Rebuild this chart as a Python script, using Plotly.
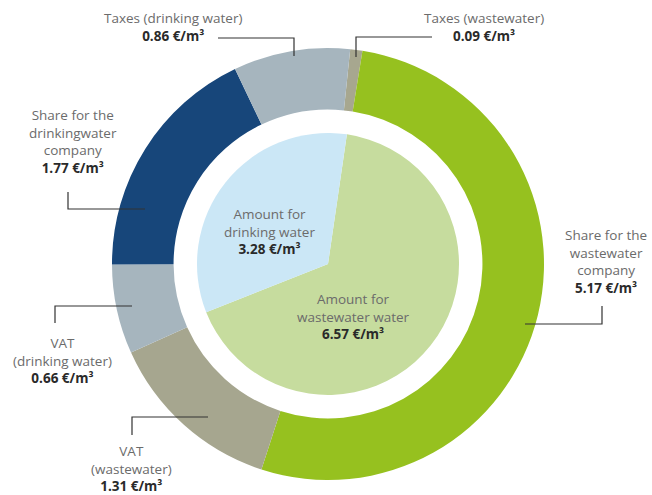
import plotly.graph_objects as go

# ---- data ----
outer_labels = ["Taxes (wastewater)", "Share for the wastewater company", "VAT (wastewater)",
                "VAT (drinking water)", "Share for the drinkingwater company", "Taxes (drinking water)"]
outer_values = [0.09, 5.17, 1.31, 0.66, 1.77, 0.86]
outer_colors = ["#A7A78F", "#96C11F", "#A6A68F", "#A6B5BE", "#17467A", "#A6B5BE"]

inner_labels = ["Amount for wastewater water", "Amount for drinking water"]
inner_values = [6.57, 3.28]
inner_colors = ["#C6DC9E", "#CBE7F6"]

W, H = 652, 495
cx, cy = 328, 264
R_out, R_in = 216, 131

def dom(r):
    return dict(x=[(cx - r) / W, (cx + r) / W], y=[1 - (cy + r) / H, 1 - (cy - r) / H])

fig = go.Figure()
fig.add_trace(go.Pie(values=outer_values, labels=outer_labels, sort=False, direction="clockwise",
                     rotation=5.9, hole=0.715, marker=dict(colors=outer_colors, line=dict(width=0)),
                     textinfo="none", hoverinfo="label+value", domain=dom(R_out), showlegend=False))
fig.add_trace(go.Pie(values=inner_values, labels=inner_labels, sort=False, direction="clockwise",
                     rotation=8.3, marker=dict(colors=inner_colors, line=dict(width=0)),
                     textinfo="none", hoverinfo="label+value", domain=dom(R_in), showlegend=False))

FONT = "Open Sans"
LBL = "#6b6b6b"
VAL = "#2a2a2a"

def label(x, y, lines, value):
    txt = "<br>".join(lines) + f"<br><b><span style='color:{VAL}'>{value:.2f} €/m³</span></b>"
    fig.add_annotation(x=x, y=y, xref="x", yref="y", text=txt, showarrow=False,
                       align="center", xanchor="center", yanchor="top",
                       font=dict(family=FONT, size=13.5, color=LBL))

label(173, 7, ["Taxes (drinking water)"], outer_values[5])
label(484, 7, ["Taxes (wastewater)"], outer_values[0])
label(73, 104, ["Share for the", "drinkingwater", "company"], outer_values[4])
label(606, 224, ["Share for the", "wastewater", "company"], outer_values[1])
label(62, 332, ["VAT", "(drinking water)"], outer_values[3])
label(131, 440, ["VAT", "(wastewater)"], outer_values[2])
label(269, 203, ["Amount for", "drinking water"], inner_values[1])
label(353, 288, ["Amount for", "wastewater water"], inner_values[0])

def leader(pts):
    path = "M " + " L ".join(f"{x},{y}" for x, y in pts)
    fig.add_shape(type="path", path=path, xref="x", yref="y",
                  line=dict(color="#333333", width=1.2))

leader([(218, 38), (294, 38), (294, 56)])
leader([(432, 37), (356, 37), (356, 57)])
leader([(68, 192), (68, 209), (145, 209)])
leader([(602, 306), (602, 324), (525, 324)])
leader([(55, 323), (55, 306), (132, 306)])
leader([(132, 435), (132, 417), (208, 417)])

fig.update_layout(width=W, height=H, margin=dict(l=0, r=0, t=0, b=0),
                  paper_bgcolor="white", plot_bgcolor="rgba(0,0,0,0)",
                  xaxis=dict(range=[0, W], visible=False, fixedrange=True),
                  yaxis=dict(range=[H, 0], visible=False, fixedrange=True),
                  showlegend=False)
fig.write_html("out.html", config={"displayModeBar": False},
               post_script="document.body.style.margin='0';document.body.style.overflow='hidden';")
